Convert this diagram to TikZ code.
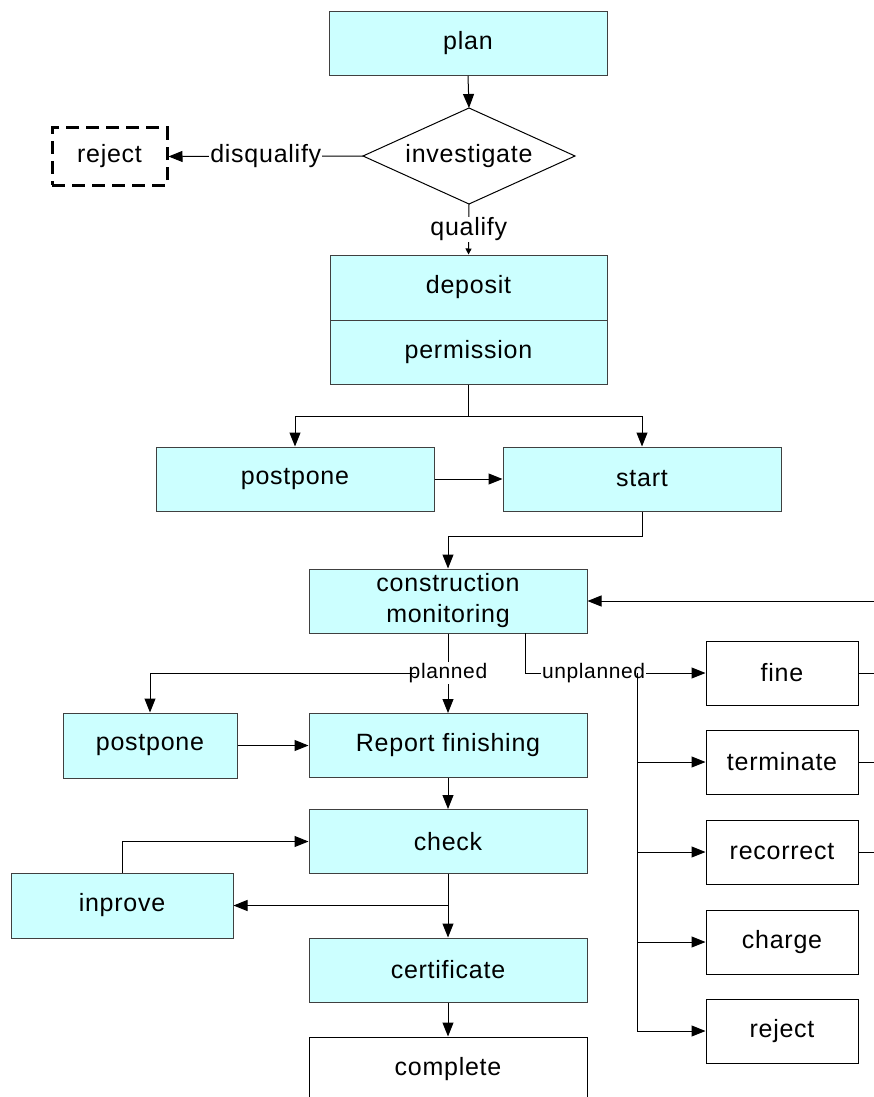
\documentclass[tikz,border=0pt]{standalone}
\usepackage{fontspec}
\setmainfont{Liberation Sans}[LetterSpace=3]
\usetikzlibrary{arrows.meta}
\definecolor{boxfill}{HTML}{CCFFFF}
\definecolor{boxline}{HTML}{404040}
\begin{document}
\begin{tikzpicture}[x=1pt, y=-1pt,
  font=\fontsize{25}{31}\selectfont,
  >={Triangle[length=14pt,width=11pt]},
  line width=1pt,
  cyanbox/.style={draw=boxline, fill=boxfill, minimum width=278pt, minimum height=64pt, inner sep=0pt, align=center},
  whitebox/.style={draw=black, fill=white, minimum width=152pt, minimum height=64pt, inner sep=0pt},
  dashbox/.style={draw=black, line width=3pt, dash pattern=on 13pt off 7pt, minimum width=115pt, minimum height=57pt, inner sep=0pt},
  lbl/.style={fill=white, inner sep=1pt},
  smalllbl/.style={fill=white, inner sep=1pt, font=\fontsize{21}{25}\selectfont},
  conn/.style={draw=black, line width=1pt}
]
\useasboundingbox (0,0) rectangle (874,1097);
\clip (0,0) rectangle (874,1097);

% nodes
\node[cyanbox] (plan) at (468,43.5) {plan};
\node[inner sep=0pt] (inv) at (469,156) {investigate};
\coordinate (invW) at (363,156);
\coordinate (invN) at (469,108);
\coordinate (invE) at (575,156);
\coordinate (invS) at (469,204);
\draw[draw=black] (invW) -- (invN) -- (invE) -- (invS) -- cycle;
\node[dashbox] (rej1) at (109.5,156.5) {reject};
\node[cyanbox, minimum width=277pt, minimum height=65pt] (dep) at (468.5,287.5) {deposit};
\node[cyanbox, minimum width=277pt] (perm) at (468.5,352) {permission};
\node[cyanbox] (pp1) at (295,479) {postpone};
\node[cyanbox] (start) at (642,479) {start};
\node[cyanbox] (cm) at (448,601) {construction\\monitoring};
\node[cyanbox] (rep) at (448,745.5) {Report finishing};
\node[cyanbox, minimum width=174pt, minimum height=65pt] (pp2) at (150,745.5) {postpone};
\node[cyanbox] (chk) at (448,841.5) {check};
\node[cyanbox, minimum width=222pt, minimum height=65pt] (inp) at (122,905.5) {inprove};
\node[cyanbox] (cert) at (448,970) {certificate};
\node[cyanbox, fill=white, draw=black] (comp) at (448,1069) {complete};
\node[whitebox] (fine) at (782,673) {fine};
\node[whitebox] (term) at (782,762) {terminate};
\node[whitebox] (reco) at (782,852) {recorrect};
\node[whitebox] (chg) at (782,942) {charge};
\node[whitebox] (rej2) at (782,1031) {reject};

\coordinate (rx) at (880,0);
\coordinate (bus) at (637,673);
\coordinate (cmU) at (525,633);

% connectors
\draw[conn,->] (plan.south) -- (invN);
\draw[conn,->] (invW) -- node[lbl] {disqualify} (rej1.east);
\draw[conn,-{Triangle[length=6pt,width=6pt]}] (invS) -- node[lbl] {qualify} (dep.north);
\draw[conn] (perm.south) -- ++(0,32) coordinate (br);
\draw[conn,->] (br) -| (pp1.north);
\draw[conn,->] (br) -| (start.north);
\draw[conn,->] (pp1.east) -- (start.west);
\draw[conn,->] (start.south) -- ++(0,25) -| (cm.north);
\draw[conn,->] (cm.east -| rx) -- (cm.east);
\draw[conn,->] (cm.south) -- node[smalllbl] (pl) {planned} (rep.north);
\draw[conn,->] ([xshift=9pt]pl.west) -| (pp2.north);
\draw[conn,->] (pp2.east) -- (rep.west);
\draw[conn,->] (rep.south) -- (chk.north);
\draw[conn,->] (chk.south) -- (cert.north);
\draw[conn,->] (chk.south |- inp.east) -- (inp.east);
\draw[conn,->] (inp.north) |- (chk.west);
\draw[conn,->] (cert.south) -- (comp.north);
\draw[conn,->] (cmU) |- node[smalllbl, pos=0.69] {unplanned} (fine.west);
\draw[conn,->] (bus) |- (rej2.west);
\draw[conn,->] (bus |- term.west) -- (term.west);
\draw[conn,->] (bus |- reco.west) -- (reco.west);
\draw[conn,->] (bus |- chg.west) -- (chg.west);
\draw[conn] (fine.east) -- (fine.east -| rx);
\draw[conn] (term.east) -- (term.east -| rx);
\draw[conn] (reco.east) -- (reco.east -| rx);
\end{tikzpicture}
\end{document}
